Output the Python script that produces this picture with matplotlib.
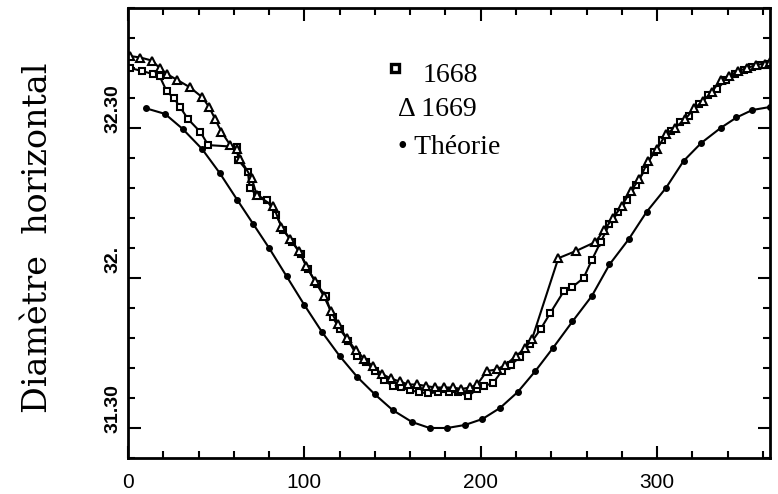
import matplotlib
matplotlib.use("Agg")
from matplotlib import pyplot as plt
from matplotlib.ticker import MultipleLocator, FixedLocator
import matplotlib.transforms as mtransforms

# jours de l'annee / diametre (minutes d'arc)
x1668 = [1, 8, 14, 18, 22, 26, 29.5, 34, 41, 45.5, 61.7, 62.6, 68, 69, 73, 78.7,
         84, 88, 93, 98, 102, 107, 112, 116, 120, 125, 130, 135, 140, 145, 150,
         155, 160, 165, 170, 176, 182, 187, 193, 198, 202, 207, 212, 217, 222,
         228, 234, 239.4, 247, 252, 258.3, 263, 268, 273, 278, 283, 288, 293,
         298, 303, 308, 313, 318, 324, 329, 334, 339, 344, 349, 354, 359, 364]
y1668 = [32.70, 32.69, 32.68, 32.672, 32.622, 32.60, 32.57, 32.53, 32.487, 32.443,
         32.437, 32.393, 32.354, 32.30, 32.276, 32.26, 32.21, 32.16, 32.12, 32.08,
         32.03, 31.98, 31.94, 31.87, 31.83, 31.79, 31.74, 31.72, 31.69, 31.66,
         31.64, 31.635, 31.625, 31.62, 31.615, 31.62, 31.62, 31.62, 31.606, 31.63,
         31.64, 31.65, 31.69, 31.71, 31.735, 31.78, 31.83, 31.883, 31.955, 31.97,
         32.0, 32.06, 32.12, 32.18, 32.22, 32.26, 32.31, 32.36, 32.42, 32.46,
         32.49, 32.52, 32.54, 32.58, 32.61, 32.63, 32.66, 32.68, 32.695, 32.705,
         32.71, 32.715]

x1669 = [1, 7, 13.4, 18, 22, 28, 35, 42, 46, 49.3, 53, 58, 61.7, 63.5, 70.2, 73,
         82.4, 87, 92, 97, 101, 106, 111, 115, 119, 124, 129, 134, 139, 144, 149,
         154, 159, 164, 169, 174, 179, 184, 189, 194, 198, 203.5, 209, 214, 220,
         225, 229, 244, 254, 265, 270, 275, 280, 285, 290, 295, 300, 305, 310,
         316, 321, 326, 331, 336, 341, 346, 351, 356, 361, 364]
y1669 = [32.74, 32.735, 32.725, 32.70, 32.68, 32.66, 32.636, 32.603, 32.57, 32.531,
         32.487, 32.443, 32.431, 32.398, 32.332, 32.276, 32.24, 32.17, 32.13, 32.09,
         32.04, 31.99, 31.94, 31.89, 31.845, 31.80, 31.76, 31.73, 31.705, 31.68,
         31.665, 31.655, 31.645, 31.645, 31.64, 31.635, 31.635, 31.635, 31.63,
         31.635, 31.645, 31.69, 31.695, 31.71, 31.74, 31.765, 31.795, 32.066, 32.09,
         32.12, 32.16, 32.20, 32.24, 32.29, 32.33, 32.39, 32.43, 32.48, 32.50,
         32.53, 32.565, 32.59, 32.62, 32.66, 32.675, 32.69, 32.70, 32.71, 32.715,
         32.72]

xtheo = [10, 21, 31, 42, 52, 62, 71, 80, 90, 100, 110, 120, 130, 140, 150, 161,
         171, 181, 191, 201, 211, 221, 231, 241, 252, 263, 273, 284, 294, 305,
         315, 325, 336, 345, 354, 364]
ytheo = [32.566, 32.547, 32.497, 32.43, 32.35, 32.26, 32.18, 32.10, 32.005, 31.91,
         31.82, 31.74, 31.67, 31.612, 31.56, 31.52, 31.50, 31.50, 31.51, 31.53,
         31.567, 31.62, 31.69, 31.767, 31.855, 31.94, 32.045, 32.13, 32.22, 32.30,
         32.39, 32.45, 32.50, 32.535, 32.56, 32.57]

ytick_vals = [31.5, 32.0, 32.5]
ytick_labels = ["31.30", "32.", "32.30"]

fig = plt.figure(figsize=(7.78, 4.94), dpi=100)
ax = fig.add_axes([0.1645, 0.0729, 0.8252, 0.9109])

ax.plot(xtheo, ytheo, color="black", lw=1.5, marker="o", ms=4)
ax.plot(x1668, y1668, color="black", lw=1.5, marker="s", ms=4.8,
        mfc="white", mec="black", mew=1.5)
ax.plot(x1669, y1669, color="black", lw=1.5, marker="^", ms=5.5,
        mfc="white", mec="black", mew=1.5)

ax.set_xlim(0, 364)
ax.set_ylim(31.4, 32.9)
ax.xaxis.set_major_locator(MultipleLocator(100))
ax.xaxis.set_minor_locator(MultipleLocator(20))
ax.yaxis.set_major_locator(FixedLocator(ytick_vals))
ax.yaxis.set_minor_locator(MultipleLocator(0.1))
ax.set_yticklabels(ytick_labels, rotation=90, va="center",
                   fontfamily="Liberation Sans", fontweight="bold", fontsize=14)
for lab in ax.get_xticklabels():
    lab.set_fontfamily("Liberation Sans")
    lab.set_fontsize(15)

ax.tick_params(which="both", direction="in", top=True, right=True, width=1.5)
ax.tick_params(which="major", length=9)
ax.tick_params(which="minor", length=5)
ax.tick_params(axis="x", which="major", pad=11)
ax.tick_params(axis="y", which="major", pad=5)
for s in ax.spines.values():
    s.set_linewidth(2)

# les etiquettes de l'axe y sont decalees vers le haut dans l'original
off = mtransforms.ScaledTranslation(0, 19 / 100, fig.dpi_scale_trans)
for lab in ax.get_yticklabels():
    lab.set_transform(lab.get_transform() + off)

ax.set_ylabel("Diamètre  horizontal", fontfamily="DejaVu Serif", fontsize=24)
ax.yaxis.set_label_coords(-0.115, 0.489)

# legende ecrite a la main
ax.plot([151.4], [32.70], marker="s", ms=6, mfc="white", mec="black", mew=2.4,
        clip_on=False)
ax.text(166.8, 32.676, "1668", fontfamily="Liberation Serif", fontsize=20,
        va="center")
ax.text(153.2, 32.56, "Δ 1669", fontfamily="Liberation Serif", fontsize=20,
        va="center")
ax.text(153.2, 32.434, "• Théorie", fontfamily="Liberation Serif", fontsize=20,
        va="center")

fig.savefig("out.png", dpi=100)
